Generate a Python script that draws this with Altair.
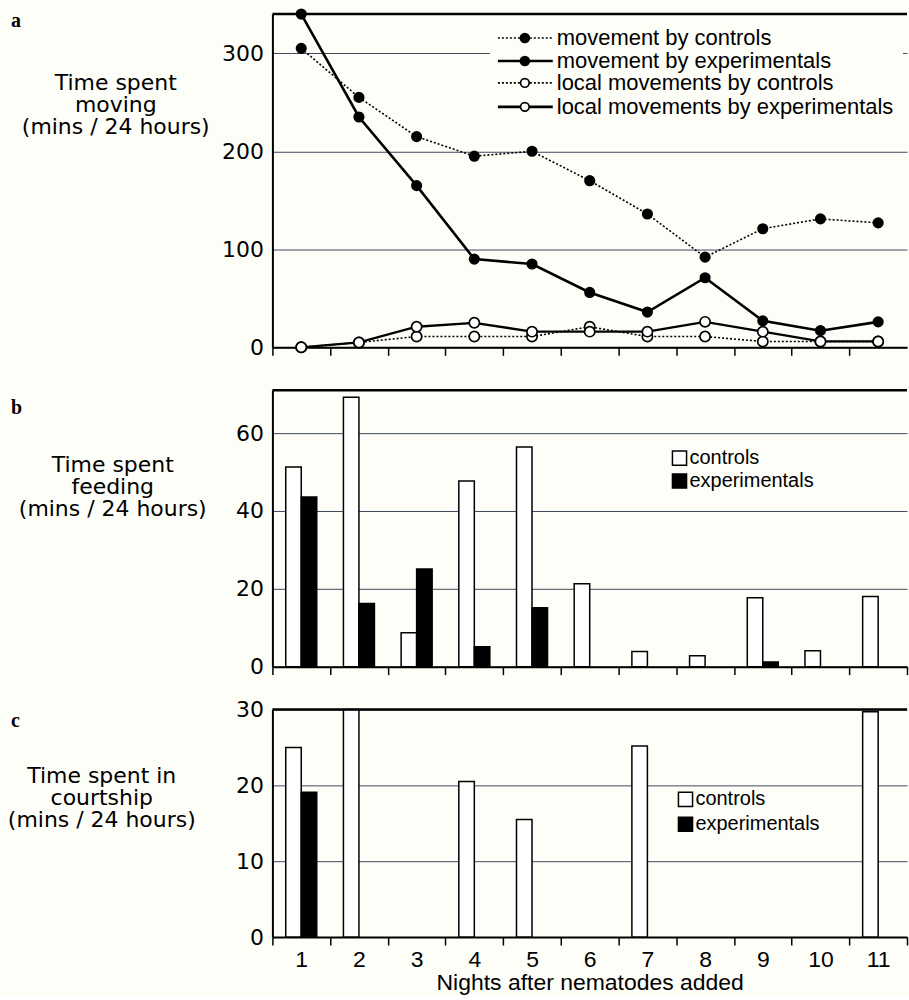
import altair as alt
import pandas as pd

# ---------------- data ----------------
nights = list(range(1, 12))

move_ctrl = [305, 255, 215, 195, 200, 170, 136, 92, 121, 131, 127]
move_exp = [340, 235, 165, 90, 85, 56, 36, 71, 27, 17, 26]
local_ctrl = [0, 5, 11, 11, 11, 21, 11, 11, 6, 6, 6]
local_exp = [0, 5, 21, 25, 16, 16, 16, 26, 16, 6, 6]

feed_ctrl = [51.3, 69.2, 8.7, 47.7, 56.4, 21.3, 3.9, 2.8, 17.7, 4.1, 18.0]
feed_exp = [43.6, 16.2, 25.1, 5.1, 15.1, 0, 0, 0, 1.2, 0, 0]

court_ctrl = [25.0, 30.0, 0, 20.5, 15.5, 0, 25.2, 0, 0, 0, 29.7]
court_exp = [19.1, 0, 0, 0, 0, 0, 0, 0, 0, 0, 0]

groups = ["controls", "experimentals"]
legend_a = ["movement by controls", "movement by experimentals",
            "local movements by controls", "local movements by experimentals"]

# ---------------- style ----------------
W = 636
FONT = "DejaVu Sans"
SANS = "Liberation Sans"
BG = "#fefef8"
GRID = "#3d4a5c"


def one():
    return alt.Data(values=[{"k": 0}])


def y_axis(values):
    return alt.Axis(values=values, grid=True, gridColor=GRID, gridWidth=1,
                    ticks=False, domainColor="black", domainWidth=2,
                    labelFont=FONT, labelFontSize=22, labelColor="black",
                    labelPadding=9, title=None)


def decor(letter, letter_y, title_lines, tx, ty):
    lay = []
    lay.append(alt.Chart(one()).mark_text(font="Liberation Serif", fontWeight="bold",
                                          fontSize=20, align="left", baseline="middle",
                                          color="black")
               .encode(x=alt.value(-262), y=alt.value(letter_y), text=alt.value(letter)))
    lay.append(alt.Chart(one()).mark_text(font=FONT, fontSize=22, lineHeight=22,
                                          align="center", baseline="top", color="black")
               .encode(x=alt.value(tx), y=alt.value(ty), text=alt.value(title_lines)))
    lay.append(alt.Chart(one()).mark_rule(color="black", strokeWidth=2.5)
               .encode(x=alt.value(0), x2=alt.value(W), y=alt.value(0)))
    return lay


# ---------------- panel a ----------------
HA = 334
xa = alt.X("night:Q", scale=alt.Scale(domain=[0.5, 11.5], nice=False, zero=False),
           axis=alt.Axis(values=[i + 0.5 for i in range(11)], labels=False, title=None,
                         grid=False, tickSize=8, tickColor="black", tickWidth=1.5,
                         domainColor="black", domainWidth=2))
ya = alt.Y("v:Q", scale=alt.Scale(domain=[0, 340], nice=False),
           axis=y_axis([0, 100, 200, 300]))


def series(vals, dashed, filled, width, size):
    df = pd.DataFrame({"night": nights, "v": vals})
    base = alt.Chart(df)
    lkw = dict(color="black", strokeWidth=width)
    if dashed:
        lkw["strokeDash"] = [2, 2]
    line = base.mark_line(**lkw).encode(x=xa, y=ya)
    pts = base.mark_circle(size=size, fill="black" if filled else "white",
                           stroke="black", strokeWidth=1.7, opacity=1).encode(x=xa, y=ya)
    return line, pts


l1, p1 = series(move_ctrl, True, True, 1.6, 90)
l2, p2 = series(move_exp, False, True, 2.6, 90)
l3, p3 = series(local_ctrl, True, False, 1.6, 105)
l4, p4 = series(local_exp, False, False, 2.3, 105)

leg_layers = [alt.Chart(one()).mark_rect(color=BG)
              .encode(x=alt.value(218), x2=alt.value(632), y=alt.value(8), y2=alt.value(106))]
leg_rows = [24, 47, 69, 93]
leg_style = [(True, True), (False, True), (True, False), (False, False)]
for ry, (dashed, filled), lab in zip(leg_rows, leg_style, legend_a):
    kw = dict(color="black", strokeWidth=1.6 if dashed else 2.6)
    if dashed:
        kw["strokeDash"] = [2, 2]
    leg_layers.append(alt.Chart(one()).mark_rule(**kw)
                      .encode(x=alt.value(226), x2=alt.value(281), y=alt.value(ry)))
    leg_layers.append(alt.Chart(one()).mark_circle(size=80 if filled else 75,
                                                   fill="black" if filled else "white",
                                                   stroke="black", strokeWidth=1.7, opacity=1)
                      .encode(x=alt.value(253), y=alt.value(ry)))
    leg_layers.append(alt.Chart(one()).mark_text(font=SANS, fontSize=22, align="left",
                                                 baseline="middle", color="black")
                      .encode(x=alt.value(285), y=alt.value(ry), text=alt.value(lab)))

panel_a = alt.layer(
    l1, l3, l4, l2, p1, p2, p3, p4, *leg_layers,
    *decor("a", 7, ["Time spent", "moving", "(mins / 24 hours)"], -157, 59)
).properties(width=W, height=HA)


# ---------------- bar panels ----------------
def bar_panel(ctrl, exp, ymax, yticks, height, show_labels, leg_x, leg_rows_y,
              letter, letter_y, title_lines, tx, ty):
    df = pd.DataFrame({
        "night": nights * 2,
        "v": list(ctrl) + list(exp),
        "grp": ["controls"] * len(nights) + ["experimentals"] * len(nights),
    })
    xax = alt.Axis(tickBand="extent", labels=show_labels, grid=False, tickSize=8,
                   tickColor="black", tickWidth=1.5, domainColor="black", domainWidth=2,
                   labelAngle=0, labelFont=SANS, labelFontSize=23, labelColor="black",
                   labelPadding=4,
                   title="Nights after nematodes added" if show_labels else None,
                   titleFont=SANS, titleFontSize=23, titleFontWeight="normal",
                   titleColor="black", titlePadding=0)
    bars = alt.Chart(df).transform_filter("datum.v > 0").mark_bar(
        stroke="black", strokeWidth=1.5).encode(
        x=alt.X("night:O", scale=alt.Scale(domain=nights, paddingInner=0, paddingOuter=0),
                axis=xax),
        xOffset=alt.XOffset("grp:N", scale=alt.Scale(domain=groups, paddingOuter=0.86,
                                                      paddingInner=0)),
        y=alt.Y("v:Q", scale=alt.Scale(domain=[0, ymax], nice=False, clamp=True),
                axis=y_axis(yticks)),
        fill=alt.Fill("grp:N", scale=alt.Scale(domain=groups, range=["white", "black"]),
                      legend=None),
    )
    leg = []
    for ry, g in zip(leg_rows_y, groups):
        leg.append(alt.Chart(one()).mark_square(size=200, fill="white" if g == "controls" else "black",
                                                stroke="black", strokeWidth=1.5, opacity=1)
                   .encode(x=alt.value(leg_x), y=alt.value(ry)))
        leg.append(alt.Chart(one()).mark_text(font=SANS, fontSize=20, align="left",
                                              baseline="middle", color="black")
                   .encode(x=alt.value(leg_x + 10), y=alt.value(ry), text=alt.value(g)))
    return alt.layer(bars, *leg, *decor(letter, letter_y, title_lines, tx, ty)
                     ).properties(width=W, height=height)


panel_b = bar_panel(feed_ctrl, feed_exp, 71, [0, 20, 40, 60], 277, False, 408, [68, 91],
                    "b", 18, ["Time spent", "feeding", "(mins / 24 hours)"], -160, 65)
panel_c = bar_panel(court_ctrl, court_exp, 30, [0, 10, 20, 30], 228, True, 414, [90, 115],
                    "c", 12, ["Time spent in", "courtship", "(mins / 24 hours)"], -171, 57)

chart = alt.vconcat(panel_a, panel_b, panel_c, spacing=43, bounds="flush").properties(
    padding={"left": 7, "top": 4, "right": 0, "bottom": 0}
).configure(background=BG).configure_view(stroke=None)

chart.save("out.html", embed_options={"renderer": "svg", "actions": False})
